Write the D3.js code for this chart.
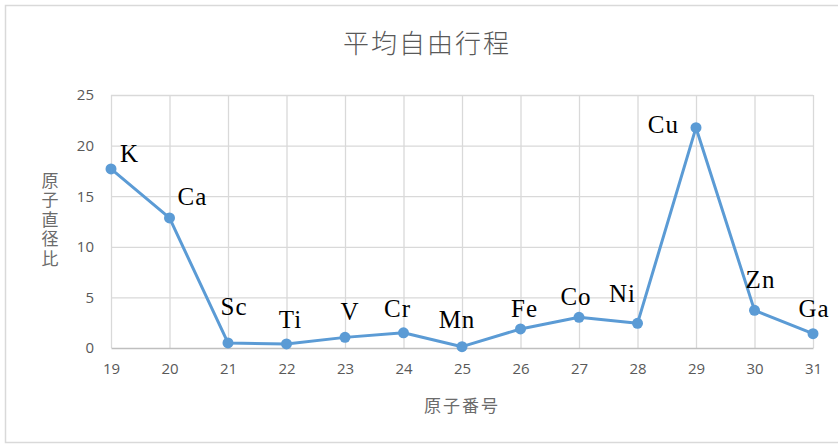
<!DOCTYPE html>
<html>
<head>
<meta charset="utf-8">
<script src="https://cdn.jsdelivr.net/npm/d3@7"></script>
<style>
  html, body { margin: 0; padding: 0; background: #ffffff; }
  svg { display: block; }
</style>
</head>
<body>
<svg id="chart" width="838" height="446"></svg>
<script>
// Atomic numbers, element symbols and the atomic-diameter ratio for each
const atomicNumbers = [19, 20, 21, 22, 23, 24, 25, 26, 27, 28, 29, 30, 31];
const elements = ["K", "Ca", "Sc", "Ti", "V", "Cr", "Mn", "Fe", "Co", "Ni", "Cu", "Zn", "Ga"];
const ratios = [17.7, 12.85, 0.5, 0.4, 1.05, 1.5, 0.13, 1.88, 3.03, 2.44, 21.77, 3.72, 1.41];
const yTicks = [0, 5, 10, 15, 20, 25];

const titleText = "平均自由行程";
const xTitle = "原子番号";
const yTitle = "原子直径比";

// Label placement relative to each point: [dx, dy, anchor]
const labelPlacement = [
  [9, -7, "start"], [8, -13, "start"], [6, -28, "middle"], [4, -16, "middle"],
  [5, -17, "middle"], [-6, -16, "middle"], [-5, -19, "middle"], [4, -12, "middle"],
  [-3, -12, "middle"], [-15, -21, "middle"], [-17, 5, "end"], [6, -22, "middle"],
  [1, -17, "middle"]
];

const svg = d3.select("#chart");
const W = 838, H = 446;

// Outer chart frame
svg.append("rect")
  .attr("x", 5.5).attr("y", 5.5)
  .attr("width", W + 10).attr("height", 437)
  .attr("fill", "#ffffff")
  .attr("stroke", "#d9d9d9")
  .attr("stroke-width", 1.5);

const plot = { left: 111, right: 813, top: 95, bottom: 348 };

const x = d3.scaleLinear().domain([19, 31]).range([plot.left, plot.right]);
const y = d3.scaleLinear().domain([0, 25]).range([plot.bottom, plot.top]);

// Gridlines
const grid = svg.append("g");
grid.selectAll("line.h")
  .data(yTicks.filter(d => d > 0))
  .join("line")
  .attr("x1", plot.left).attr("x2", plot.right)
  .attr("y1", d => y(d) + 0.5).attr("y2", d => y(d) + 0.5)
  .attr("stroke", "#d9d9d9").attr("stroke-width", 1.3);
grid.selectAll("line.v")
  .data(atomicNumbers)
  .join("line")
  .attr("x1", d => x(d) + 0.5).attr("x2", d => x(d) + 0.5)
  .attr("y1", plot.top).attr("y2", plot.bottom)
  .attr("stroke", "#d9d9d9").attr("stroke-width", 1.3);

// Axes
const tickFont = "'Open Sans', 'Noto Sans', sans-serif";
const yAxis = svg.append("g")
  .attr("transform", `translate(${plot.left},0)`)
  .call(d3.axisLeft(y).tickValues(yTicks).tickSize(0).tickPadding(17).tickFormat(d3.format("d")));
yAxis.select(".domain").remove();
yAxis.selectAll("text")
  .attr("fill", "#595959").style("font-family", tickFont).style("font-size", "15px");

const xAxis = svg.append("g")
  .attr("transform", `translate(0,${plot.bottom})`)
  .call(d3.axisBottom(x).tickValues(atomicNumbers).tickSize(0).tickPadding(15).tickFormat(d3.format("d")));
xAxis.select(".domain")
  .attr("stroke", "#bfbfbf").attr("stroke-width", 1.5);
xAxis.selectAll("text")
  .attr("fill", "#595959").style("font-family", tickFont).style("font-size", "15px");

// Title
svg.append("text")
  .attr("x", 427).attr("y", 53)
  .attr("text-anchor", "middle")
  .attr("fill", "#595959")
  .style("font-family", "'Noto Sans CJK JP', sans-serif")
  .style("font-weight", 300)
  .style("font-size", "26px")
  .style("letter-spacing", "2px")
  .text(titleText);

// X axis title
svg.append("text")
  .attr("x", 462).attr("y", 412)
  .attr("text-anchor", "middle")
  .attr("fill", "#6b6b6b")
  .style("font-family", "'Noto Sans CJK JP', sans-serif")
  .style("font-size", "17px")
  .style("letter-spacing", "2px")
  .text(xTitle);

// Y axis title, set vertically with upright characters
svg.append("text")
  .attr("x", 50)
  .attr("y", 172)
  .attr("fill", "#6b6b6b")
  .style("font-family", "'Noto Sans CJK JP', sans-serif")
  .style("font-size", "17px")
  .style("writing-mode", "vertical-rl")
  .style("text-orientation", "upright")
  .style("letter-spacing", "2.5px")
  .text(yTitle);

// Series line
const data = atomicNumbers.map((n, i) => ({ n, v: ratios[i], el: elements[i], lp: labelPlacement[i] }));
svg.append("path")
  .datum(data)
  .attr("fill", "none")
  .attr("stroke", "#5b9bd5")
  .attr("stroke-width", 3)
  .attr("stroke-linejoin", "round")
  .attr("d", d3.line().x(d => x(d.n)).y(d => y(d.v)));

// Markers
svg.selectAll("circle.pt")
  .data(data)
  .join("circle")
  .attr("cx", d => x(d.n)).attr("cy", d => y(d.v))
  .attr("r", 5.5)
  .attr("fill", "#5b9bd5");

// Element labels
svg.selectAll("text.lbl")
  .data(data)
  .join("text")
  .attr("x", d => x(d.n) + d.lp[0])
  .attr("y", d => y(d.v) + d.lp[1])
  .attr("text-anchor", d => d.lp[2])
  .attr("fill", "#000000")
  .style("font-family", "'Liberation Serif', 'Times New Roman', serif")
  .style("font-size", "25px")
  .style("letter-spacing", "1px")
  .text(d => d.el);
</script>
</body>
</html>
